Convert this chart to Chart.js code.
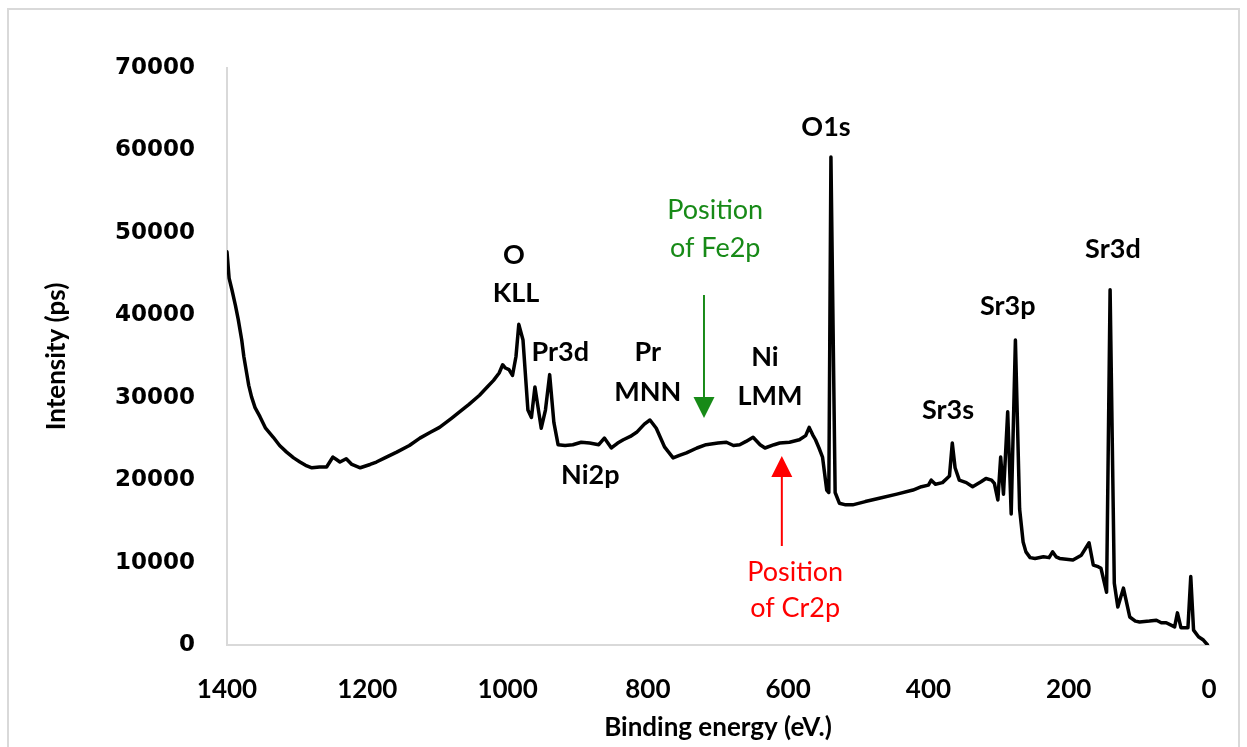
<!DOCTYPE html>
<html>
<head>
<meta charset="utf-8">
<script src="https://cdn.jsdelivr.net/npm/chart.js@4.4.1/dist/chart.umd.min.js"></script>
<style>
  html, body { margin: 0; padding: 0; background: #fff; }
  canvas { display: block; }
</style>
</head>
<body>
<canvas id="xpsChart" width="1247" height="747"></canvas>
<script>
// Survey spectrum (binding energy in eV, intensity in counts)
const energy = [
  1400, 1397, 1393, 1388, 1384, 1379, 1376, 1372, 1369, 1365, 1360, 1353, 1345, 1334,
  1325, 1315, 1305, 1296, 1288, 1279, 1268, 1258, 1249, 1244, 1239, 1230, 1222, 1210,
  1196, 1187, 1175, 1158, 1140, 1125, 1110, 1097, 1080, 1068, 1055, 1040, 1030, 1020,
  1012, 1007, 1003, 998, 993, 988, 984, 978, 971, 966, 961, 952, 946, 940, 934, 928,
  918, 907, 895, 883, 870, 862, 852, 843, 835, 825, 816, 805, 797, 788, 776, 764,
  755, 745, 730, 717, 700, 688, 678, 669, 660, 650, 640, 633, 620, 612, 598, 584,
  575, 570, 565, 561, 556, 551, 545, 542, 539, 533, 527, 518, 508, 490, 470, 445,
  422, 410, 400, 396, 390, 380, 370, 366, 362, 356, 346, 337, 325, 318, 310, 306,
  301, 297, 293, 287, 282, 276, 270, 265, 261, 255, 248, 236, 228, 223, 218, 213,
  194, 182, 171, 165, 158, 154, 146, 141, 135, 130, 122, 113, 105, 99, 85, 75,
  68, 61, 49, 45, 40, 30, 26, 22, 15, 8, 2
];
const intensity = [
  47700, 44500, 43100, 41200, 39500, 37000, 35000, 33000, 31500, 30100, 28800, 27700, 26300, 25200,
  24200, 23400, 22700, 22200, 21800, 21500, 21600, 21600, 22800, 22500, 22200, 22600, 21900, 21500,
  21900, 22200, 22700, 23400, 24200, 25100, 25800, 26400, 27500, 28300, 29200, 30300, 31200, 32100,
  33000, 34000, 33600, 33400, 32700, 35000, 38900, 37000, 28500, 27600, 31300, 26300, 28500, 32800, 27000, 24300,
  24200, 24300, 24600, 24500, 24300, 25100, 23900, 24500, 24900, 25300, 25800, 26800, 27300, 26300, 24000, 22700,
  23000, 23300, 23900, 24300, 24500, 24600, 24200, 24300, 24700, 25200, 24300, 23900, 24300, 24500, 24600, 24900,
  25400, 26400, 25500, 24900, 23900, 22800, 18800, 18500, 59200, 18500, 17200, 17000, 17000, 17400, 17800, 18300,
  18800, 19200, 19400, 20000, 19500, 19700, 20500, 24500, 21500, 20000, 19700, 19200, 19800, 20200, 20000, 19600,
  17600, 22800, 18300, 28300, 15900, 37000, 16500, 12500, 11300, 10600, 10500, 10700, 10600, 11300, 10700, 10500,
  10300, 10900, 12400, 9700, 9500, 9300, 6400, 43100, 7500, 4600, 6900, 3400, 2900, 2800, 2900, 3000,
  2700, 2700, 2200, 3900, 2100, 2100, 8300, 1800, 1000, 600, 0
];

// Tick labels
const xTicks = [1400, 1200, 1000, 800, 600, 400, 200, 0];
const yTicks = [0, 10000, 20000, 30000, 40000, 50000, 60000, 70000];

// Peak names, placed in data units
const peakLabels = [
  { text: "O", x: 991, y: 47300 },
  { text: "KLL", x: 988, y: 42700 },
  { text: "Pr3d", x: 925, y: 35540 },
  { text: "Pr", x: 800, y: 35540 },
  { text: "MNN", x: 800, y: 30690 },
  { text: "Ni", x: 633, y: 34930 },
  { text: "LMM", x: 626, y: 30200 },
  { text: "Ni2p", x: 882, y: 20620 },
  { text: "O1s", x: 546, y: 62830 },
  { text: "Sr3s", x: 372, y: 28500 },
  { text: "Sr3p", x: 287, y: 41120 },
  { text: "Sr3d", x: 137, y: 48030 },
];

// "Position of ..." notes with their arrows
const notes = [
  { lines: ["Position", "of Fe2p"], x: 704, y: [52770, 48160], color: "#178a17",
    arrow: { x: 720, from: 42460, to: 27540 } },
  { lines: ["Position", "of Cr2p"], x: 590, y: [8850, 4490], color: "#ff0000",
    arrow: { x: 609, from: 12010, to: 22930 } },
];

const points = energy.map((e, i) => ({ x: e, y: intensity[i] }));

// White page with the light grey frame
const framePlugin = {
  id: "frame",
  beforeDraw(chart) {
    const ctx = chart.ctx;
    ctx.save();
    ctx.fillStyle = "#fff";
    ctx.fillRect(0, 0, chart.width, chart.height);
    ctx.strokeStyle = "#d9d9d9";
    ctx.lineWidth = 2;
    ctx.strokeRect(8, 9, 1231, 760);
    ctx.restore();
  },
};

function drawArrow(ctx, x, y1, y2, color) {
  const dir = y2 > y1 ? 1 : -1;
  const head = 21;
  ctx.strokeStyle = color;
  ctx.fillStyle = color;
  ctx.lineWidth = 2;
  ctx.beginPath();
  ctx.moveTo(x, y1);
  ctx.lineTo(x, y2 - dir * head);
  ctx.stroke();
  ctx.beginPath();
  ctx.moveTo(x, y2);
  ctx.lineTo(x - 10.5, y2 - dir * head);
  ctx.lineTo(x + 10.5, y2 - dir * head);
  ctx.closePath();
  ctx.fill();
}

const labelPlugin = {
  id: "peakLabels",
  afterDatasetsDraw(chart) {
    const ctx = chart.ctx;
    const xs = chart.scales.x;
    const ys = chart.scales.y;
    ctx.save();
    ctx.textAlign = "center";
    ctx.textBaseline = "middle";
    ctx.font = "bold 27px Lato";
    ctx.fillStyle = "#000";
    peakLabels.forEach((p) => {
      ctx.fillText(p.text, xs.getPixelForValue(p.x), ys.getPixelForValue(p.y));
    });
    ctx.font = "27px Lato";
    notes.forEach((n) => {
      ctx.fillStyle = n.color;
      n.lines.forEach((t, i) => {
        ctx.fillText(t, xs.getPixelForValue(n.x), ys.getPixelForValue(n.y[i]));
      });
      drawArrow(ctx, xs.getPixelForValue(n.arrow.x),
        ys.getPixelForValue(n.arrow.from), ys.getPixelForValue(n.arrow.to), n.color);
    });
    ctx.restore();
  },
};

new Chart(document.getElementById("xpsChart"), {
  type: "line",
  data: {
    datasets: [
      {
        data: points,
        borderColor: "#000",
        borderWidth: 3.5,
        borderJoinStyle: "round",
        borderCapStyle: "round",
        pointRadius: 0,
        tension: 0,
        fill: false,
      },
    ],
  },
  options: {
    responsive: false,
    animation: false,
    layout: { padding: { left: 0, right: 38, top: 68, bottom: 0 } },
    plugins: {
      legend: { display: false },
      tooltip: { enabled: false },
    },
    scales: {
      x: {
        type: "linear",
        reverse: true,
        min: 0,
        max: 1400,
        afterBuildTicks: (s) => { s.ticks = xTicks.map((v) => ({ value: v })); },
        afterFit: (s) => { s.height = 102; },
        grid: { drawOnChartArea: false, drawTicks: false },
        border: { display: true, color: "#d9d9d9", width: 2 },
        ticks: {
          padding: 29,
          color: "#000",
          font: { family: "Lato", size: 26, weight: "bold" },
          callback: (v) => String(v),
        },
        title: {
          display: true,
          text: "Binding energy (eV.)",
          color: "#000",
          font: { family: "Lato", size: 26, weight: "bold" },
          padding: { top: 0, bottom: 4 },
        },
      },
      y: {
        min: 0,
        max: 70000,
        afterBuildTicks: (s) => { s.ticks = yTicks.map((v) => ({ value: v })); },
        afterFit: (s) => { s.width = 227; },
        grid: { drawOnChartArea: false, drawTicks: false },
        border: { display: true, color: "#d9d9d9", width: 2 },
        ticks: {
          padding: 32,
          color: "#000",
          font: { family: "DejaVu Sans", size: 23, weight: "bold" },
          callback: (v) => String(v),
        },
        title: {
          display: true,
          text: "Intensity (ps)",
          color: "#000",
          font: { family: "Lato", size: 26, weight: "bold" },
          padding: { top: 41, bottom: 0 },
        },
      },
    },
  },
  plugins: [framePlugin, labelPlugin],
});
</script>
</body>
</html>
